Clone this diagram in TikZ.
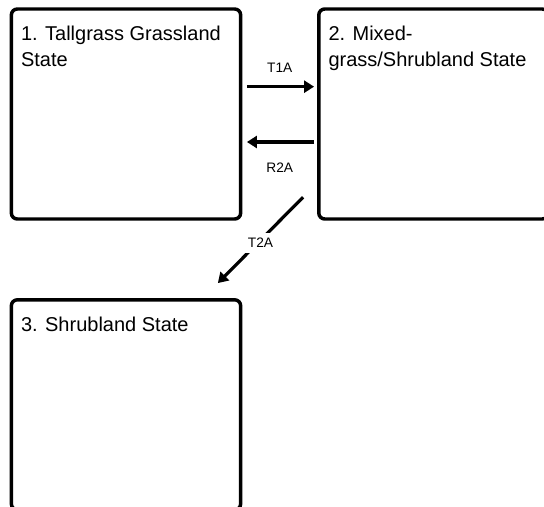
\documentclass[tikz,border=0pt]{standalone}
\usepackage{fontspec}
\setmainfont{Liberation Sans}
\usetikzlibrary{arrows.meta, positioning}

\begin{document}
\begin{tikzpicture}[
    x=0.75pt, y=-0.75pt,
    node distance=56pt and 56pt,
    state/.style={draw, line width=2.6pt, rounded corners=4.5pt, minimum width=172pt, minimum height=157.5pt, inner sep=0pt},
    title/.style={anchor=north west, inner sep=0pt, align=left, font=\fontsize{15}{19.5}\selectfont},
    arr/.style={-{Triangle[length=7.5pt, width=9pt]}, line width=2.4pt},
    lab/.style={font=\fontsize{10.3}{12}\selectfont, inner sep=1.5pt}
  ]
    \useasboundingbox (0,0) rectangle (544,507);
    \clip (0,0) rectangle (544,507);
    \node[state] (s1) at (126,114) {};
    \node[state, right=of s1] (s2) {};
    \node[state, below=58pt of s1] (s3) {};
    \node[title] (t1) at ([shift={(8.4pt,-14.2pt)}]s1.north west) {1. Tallgrass Grassland\\State};
    \node[title] (t2) at ([shift={(8.4pt,-14.2pt)}]s2.north west) {2. Mixed-\\grass/Shrubland State};
    \node[title] (t3) at ([shift={(8.4pt,-14.2pt)}]s3.north west) {3. Shrubland State};
    \draw[arr, shorten <=3.4pt, shorten >=2.25pt] ([yshift=20.5pt]s1.east) -- ([yshift=20.5pt]s2.west) node[lab, midway, yshift=14pt] (l1) {T1A};
    \draw[arr, shorten <=2.25pt, shorten >=3.4pt] ([yshift=-21pt]s2.west) -- ([yshift=-21pt]s1.east) node[lab, midway, yshift=-19.3pt] (l2) {R2A};
    \draw[arr] ([shift={(-10.5pt,17.6pt)}]s2.south west) -- ([shift={(-18.4pt,11.25pt)}]s3.north east) node[lab, midway, fill=white, inner sep=4pt, yshift=-2pt] (l3) {T2A};
\end{tikzpicture}
\end{document}
